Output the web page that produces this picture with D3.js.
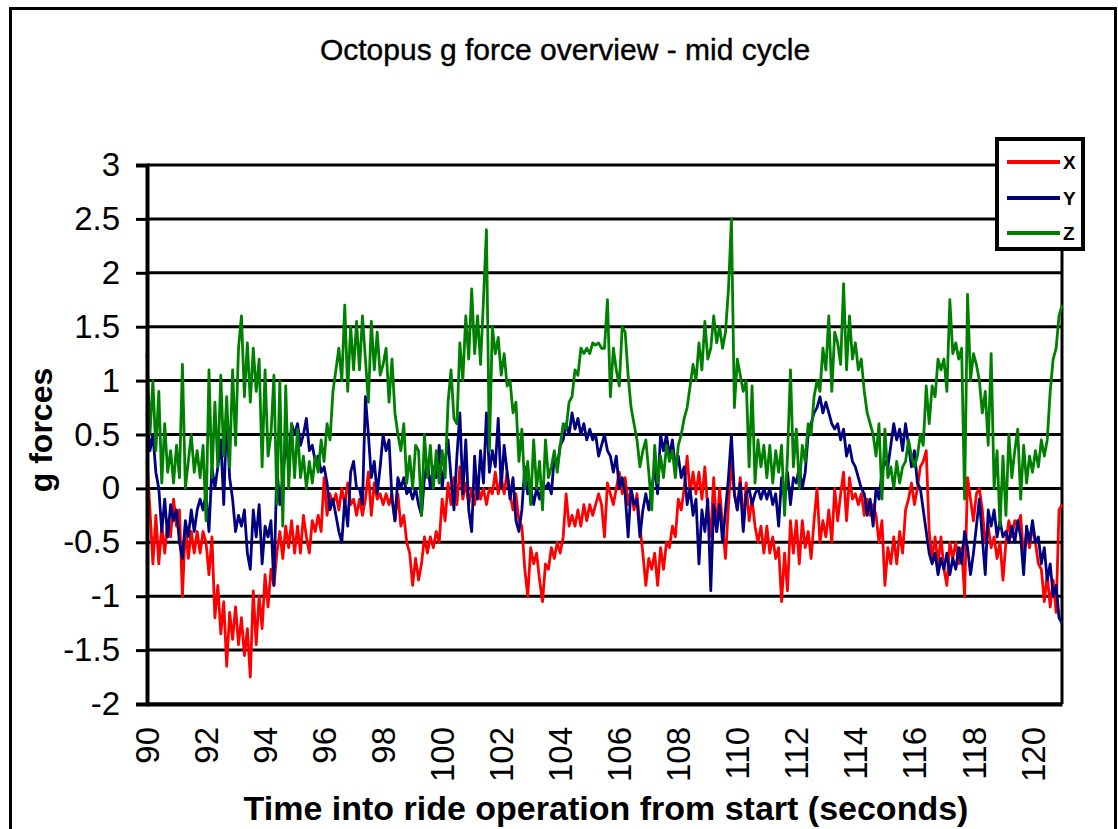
<!DOCTYPE html>
<html>
<head>
<meta charset="utf-8">
<script src="https://cdn.jsdelivr.net/npm/d3@7"></script>
<style>
  html, body { margin: 0; padding: 0; background: #fff; }
  svg { display: block; font-family: "Liberation Sans", Arial, sans-serif; }
</style>
</head>
<body>
<svg id="chart" width="1118" height="829"></svg>
<script>
// sampled every 0.1 s, starting at 90 s
const startTime = 90;
const sampleStep = 0.1;

const xSeries = [
  0.25, -0.2, -0.7, -0.25, -0.7, -0.35, -0.6, -0.3, -0.45, -0.1,
  -0.35, -0.2, -1.0, -0.35, -0.65, -0.4, -0.6, -0.4, -0.6, -0.4,
  -0.5, -0.8, -0.45, -1.2, -0.9, -1.35, -1.05, -1.65, -1.15, -1.4,
  -1.1, -1.45, -1.2, -1.55, -1.3, -1.75, -0.95, -1.45, -1.0, -1.3,
  -0.8, -1.1, -0.75, -0.9, -0.6, -0.4, -0.65, -0.35, -0.55, -0.3,
  -0.6, -0.35, -0.6, -0.25, -0.45, -0.6, -0.3, -0.4, -0.25, -0.4,
  0.1, -0.25, -0.05, -0.15, -0.05, -0.2, 0.0, -0.15, 0.05, -0.15,
  -0.1, -0.25, -0.1, -0.25, -0.1, 0.15, -0.25, 0.05, -0.1, -0.05,
  -0.15, -0.05, -0.15, -0.05, -0.3, -0.05, -0.35, -0.25, -0.5, -0.6,
  -0.9, -0.65, -0.85, -0.7, -0.45, -0.6, -0.45, -0.55, -0.4, -0.5,
  -0.1, -0.3, 0.05, -0.15, 0.1, -0.15, 0.2, -0.1, 0.05, -0.15,
  0.0, -0.15, 0.05, -0.1, 0.0, -0.15, 0.0, -0.05, 0.15, -0.05,
  0.1, -0.05, 0.15, -0.05, -0.2, -0.05, -0.3, -0.35, -0.75, -1.0,
  -0.55, -0.7, -0.6, -0.85, -1.05, -0.7, -0.75, -0.55, -0.65, -0.5,
  -0.6, -0.45, -0.05, -0.35, -0.25, -0.35, -0.2, -0.35, -0.15, -0.3,
  -0.15, -0.25, -0.15, -0.05, -0.15, -0.45, 0.05, -0.05, -0.15, 0.0,
  0.15, -0.05, 0.1, -0.15, 0.0, -0.2, -0.05, -0.35, -0.6, -0.9,
  -0.65, -0.75, -0.6, -0.9, -0.55, -0.75, -0.5, -0.55, -0.35, -0.45,
  -0.1, -0.2, 0.0, 0.3, -0.05, 0.15, -0.05, 0.15, -0.1, 0.2,
  -0.2, -0.45, 0.1, -0.4, 0.0, -0.35, -0.65, -0.15, 0.25, -0.05,
  -0.2, 0.1, -0.35, 0.05, -0.3, -0.1, -0.35, -0.5, -0.35, -0.6,
  -0.35, -0.6, -0.45, -0.65, -0.55, -1.05, -0.6, -0.95, -0.3, -0.6,
  -0.3, -0.7, -0.3, -0.55, -0.4, -0.65, -0.3, 0.0, -0.5, -0.3,
  -0.45, -0.2, -0.5, 0.0, -0.3, -0.05, 0.15, -0.3, 0.1, -0.1,
  -0.05, -0.15, -0.05, -0.25, -0.1, -0.25, -0.15, -0.25, -0.5, -0.3,
  -0.9, -0.55, -0.7, -0.45, -0.7, -0.4, -0.6, -0.2, -0.1, 0.05,
  -0.15, 0.0, 0.2, 0.25, 0.35, -0.4, -0.65, -0.45, -0.7, -0.45,
  -0.75, -0.9, -0.5, -0.65, -0.5, -0.7, -0.55, -1.0, 0.1, -0.1,
  -0.3, -0.05, 0.0, -0.2, -0.5, -0.35, -0.55, -0.45, -0.65, -0.5,
  -0.85, -0.5, -0.3, -0.45, -0.3, -0.35, -0.25, -0.65, -0.4, -0.55,
  -0.35, -0.5, -0.7, -0.75, -1.05, -0.8, -1.1, -0.85, -1.15, -0.2,
  -0.15
];

const ySeries = [
  0.7, 0.35, 0.5, 0.15, 0.0, -0.4, -0.1, -0.45, -0.15, -0.3,
  -0.2, -0.5, -0.65, -0.3, -0.45, -0.2, -0.4, -0.2, -0.1, -0.2,
  -0.05, -0.4, 0.2, 0.0, 0.2, 0.45, -0.15, 0.7, 0.1, -0.1,
  -0.4, -0.25, -0.35, -0.2, -0.6, -0.75, -0.2, -0.45, -0.15, -0.7,
  -0.35, -0.45, -0.3, -0.9, 0.2, -0.15, 0.1, 0.4, 0.25, 0.6,
  0.5, 0.6, 0.4, 0.5, 0.65, 0.35, 0.4, 0.25, 0.3, 0.15,
  0.2, 0.05, -0.2, -0.1, -0.25, -0.4, -0.5, -0.1, -0.35, 0.15,
  0.25, 0.0, 0.0, -0.15, 0.85, 0.5, 0.1, 0.25, -0.05, 0.2,
  0.5, 0.35, 0.45, -0.1, -0.3, 0.1, 0.0, 0.1, -0.05, 0.0,
  -0.1, 0.0, -0.15, -0.25, 0.1, 0.25, 0.0, 0.2, 0.1, 0.4,
  0.0, 0.25, 0.45, 0.1, -0.2, 0.3, 0.7, -0.05, 0.45, -0.2,
  -0.4, 0.3, -0.1, 0.35, 0.05, 0.7, 0.15, 0.35, 0.2, 0.65,
  0.0, 0.4, 0.15, -0.1, 0.1, -0.3, -0.4, -0.2, 0.2, -0.05,
  0.0, -0.15, 0.0, -0.1, 0.05, 0.0, 0.05, -0.05, 0.3, 0.2,
  0.4, 0.45, 0.6, 0.5, 0.7, 0.55, 0.65, 0.5, 0.6, 0.45,
  0.55, 0.45, 0.5, 0.3, 0.4, 0.5, 0.35, 0.3, 0.15, 0.3,
  0.0, 0.1, -0.05, -0.45, 0.0, -0.15, -0.1, -0.45, -0.2, -0.05,
  -0.2, 0.0, 0.2, -0.05, 0.5, 0.35, 0.5, 0.3, 0.45, 0.2,
  0.3, 0.1, 0.2, -0.15, 0.0, -0.25, -0.1, -0.7, -0.2, -0.4,
  -0.1, -0.95, -0.15, -0.4, -0.15, -0.5, -0.2, 0.1, 0.5, -0.05,
  -0.2, 0.05, -0.4, -0.05, 0.0, -0.15, -0.05, 0.0, -0.1, 0.0,
  -0.1, 0.0, -0.15, -0.05, -0.35, 0.1, -0.1, 0.15, -0.15, 0.1,
  0.05, 0.2, 0.0, 0.15, 0.5, 0.6, 0.7, 0.75, 0.85, 0.7,
  0.8, 0.7, 0.6, 0.55, 0.6, 0.45, 0.55, 0.3, 0.4, 0.25,
  0.2, 0.1, 0.0, -0.05, -0.25, -0.1, -0.35, 0.0, -0.1, 0.15,
  0.25, 0.2, 0.4, 0.6, 0.45, 0.55, 0.35, 0.6, 0.4, 0.2,
  0.35, 0.05, 0.0, -0.2, -0.4, -0.6, -0.7, -0.6, -0.8, -0.65,
  -0.75, -0.6, -0.8, -0.65, -0.75, -0.55, -0.7, -0.4, -0.55, -0.8,
  -0.6, -0.35, -0.1, -0.45, -0.8, -0.2, -0.35, -0.2, -0.45, -0.3,
  -0.45, -0.4, -0.5, -0.35, -0.5, -0.3, -0.45, -0.8, -0.35, -0.5,
  -0.3, -0.5, -0.45, -0.7, -0.55, -0.85, -0.7, -1.0, -0.9, -1.2,
  -1.25
];

const zSeries = [
  1.25, 0.5, 1.0, 0.35, 0.9, 0.05, 0.6, 0.15, 0.35, 0.05,
  0.4, 0.1, 1.15, 0.0, 0.25, 0.5, 0.15, 0.35, 0.1, 0.4,
  -0.3, 1.1, 0.1, 0.8, 0.2, 1.05, 0.3, 0.85, 0.2, 1.1,
  0.4, 1.3, 1.6, 0.85, 1.35, 0.8, 1.3, 0.9, 1.2, 0.2,
  1.1, 0.3, 0.5, 1.05, -0.15, 1.0, -0.35, 0.95, 0.0, 0.6,
  0.1, 0.55, 0.1, 0.3, 0.0, 0.25, 0.05, 0.3, 0.15, 0.45,
  0.25, 0.6, 0.45, 0.9, 1.1, 1.3, 1.0, 1.7, 0.9, 1.5,
  1.1, 1.55, 1.1, 1.6, 1.2, 0.8, 1.55, 1.1, 1.45, 1.05,
  1.15, 1.3, 0.8, 1.2, 0.7, 0.5, 0.35, 0.6, 0.05, 0.3,
  0.0, 0.4, 0.35, -0.25, 0.5, 0.1, 0.4, 0.0, 0.35, 0.05,
  0.35, 0.1, 0.8, 1.1, 0.65, 0.6, 1.35, 1.0, 1.6, 1.2,
  1.85, 1.25, 1.6, 1.15, 1.75, 2.4, 0.35, 1.5, 1.25, 1.4,
  1.05, 1.25, 0.95, 1.0, 0.7, 0.8, 0.25, 0.55, 0.0, 0.25,
  -0.15, 0.45, 0.0, 0.25, -0.2, 0.45, 0.1, 0.2, 0.35, 0.15,
  0.4, 0.6, 0.55, 0.8, 0.85, 1.1, 1.05, 1.3, 1.25, 1.3,
  1.25, 1.35, 1.33, 1.35, 1.3, 1.3, 1.75, 0.85, 1.3, 1.1,
  0.95, 1.5, 1.45, 1.05, 0.75, 0.6, 0.45, 0.2, 0.35, 0.45,
  0.15, -0.2, 0.4, 0.05, 0.3, 0.1, 0.4, 0.25, 0.35, 0.1,
  0.4, 0.5, 0.65, 0.75, 0.95, 1.15, 1.0, 1.35, 1.1, 1.55,
  1.2, 1.3, 1.6, 1.35, 1.5, 1.3, 1.45, 1.85, 2.5, 0.75,
  1.2, 1.05, 0.9, 1.0, 0.2, 0.95, 0.05, 0.45, 0.2, 0.4,
  0.1, 0.4, 0.05, 0.35, 0.15, 0.4, -0.25, 0.3, 1.1, 0.2,
  0.55, 0.0, 0.4, 0.25, 0.6, 0.5, 0.85, 1.0, 0.9, 1.3,
  1.1, 1.6, 0.9, 1.45, 1.35, 1.15, 1.9, 1.1, 1.6, 1.2,
  1.35, 1.1, 1.2, 0.9, 0.7, 0.6, 0.5, 0.3, 0.6, -0.1,
  0.55, 0.1, 0.2, 0.0, 0.25, 0.05, 0.2, 0.25, 0.45, 0.3,
  0.2, 0.3, 0.5, 0.4, 0.95, 0.6, 0.95, 0.85, 1.2, 1.1,
  1.2, 0.9, 1.75, 1.25, 1.35, 1.2, 1.3, -0.1, 1.8, 1.0,
  1.25, 1.15, 1.0, 0.7, 0.9, 0.4, 1.25, 0.0, 0.35, -0.35,
  0.3, -0.25, 0.5, 0.1, 0.35, 0.55, -0.1, 0.4, 0.05, 0.3,
  0.15, 0.35, 0.2, 0.45, 0.3, 0.45, 0.9, 1.2, 1.3, 1.6,
  1.7
];

const seriesNames = ['X', 'Y', 'Z'];
const seriesColors = ['#ff0000', '#000080', '#008000'];
const xTicks = [90, 92, 94, 96, 98, 100, 102, 104, 106, 108, 110, 112, 114, 116, 118, 120];
const yTicks = [-2, -1.5, -1, -0.5, 0, 0.5, 1, 1.5, 2, 2.5, 3];

// plain hyphen for negatives, like the original spreadsheet chart
const plainFormat = d => String(d);

const svg = d3.select('#chart');

// outer chart border
svg.append('rect')
  .attr('x', 10.5).attr('y', 8.5)
  .attr('width', 1105).attr('height', 850)
  .attr('fill', '#fff')
  .attr('stroke', '#000')
  .attr('stroke-width', 3);

svg.append('text')
  .attr('x', 565).attr('y', 60)
  .attr('text-anchor', 'middle')
  .attr('font-size', 30)
  .attr('fill', '#000')
  .attr('stroke', '#000')
  .attr('stroke-width', 0.4)
  .text('Octopus g force overview - mid cycle');

const x = d3.scaleLinear().domain([90, 121]).range([147, 1062]);
const y = d3.scaleLinear().domain([-2, 3]).range([704, 165]);

// gridlines
svg.append('g')
  .selectAll('line')
  .data(yTicks)
  .enter().append('line')
    .attr('x1', x(90)).attr('x2', x(121))
    .attr('y1', d => y(d)).attr('y2', d => y(d))
    .attr('stroke', '#000')
    .attr('stroke-width', 3);

// right frame
svg.append('line')
  .attr('x1', x(121)).attr('x2', x(121))
  .attr('y1', y(3)).attr('y2', y(-2))
  .attr('stroke', '#000')
  .attr('stroke-width', 3);

// series
const line = d3.line()
  .x((d, i) => x(startTime + i * sampleStep))
  .y(d => y(d));

[xSeries, ySeries, zSeries].forEach((values, k) => {
  svg.append('path')
    .datum(values)
    .attr('fill', 'none')
    .attr('stroke', seriesColors[k])
    .attr('stroke-width', 2.8)
    .attr('stroke-linejoin', 'round')
    .attr('d', line);
});

// y axis
const yAxis = svg.append('g')
  .attr('transform', `translate(${x(90)},0)`)
  .call(d3.axisLeft(y)
    .tickValues(yTicks)
    .tickSize(11)
    .tickPadding(16)
    .tickFormat(plainFormat));
yAxis.select('.domain').attr('stroke-width', 4);
yAxis.selectAll('.tick line').attr('stroke-width', 3);
yAxis.selectAll('.tick text')
  .attr('font-size', 33)
  .attr('font-family', '"Liberation Sans", Arial, sans-serif')
  .attr('fill', '#000');

// x axis
const xAxis = svg.append('g')
  .attr('transform', `translate(0,${y(-2)})`)
  .call(d3.axisBottom(x)
    .tickValues(xTicks)
    .tickSize(0)
    .tickFormat(plainFormat));
xAxis.select('.domain').attr('stroke-width', 4);
xAxis.selectAll('.tick text')
  .attr('font-size', 33)
  .attr('font-family', '"Liberation Sans", Arial, sans-serif')
  .attr('fill', '#000')
  .attr('text-anchor', 'end')
  .attr('transform', 'rotate(-90)')
  .attr('x', -23)
  .attr('y', 0)
  .attr('dy', '0.35em');

svg.append('text')
  .attr('transform', 'translate(52,430) rotate(-90)')
  .attr('text-anchor', 'middle')
  .attr('font-size', 32)
  .attr('font-weight', 'bold')
  .attr('fill', '#000')
  .text('g forces');

svg.append('text')
  .attr('x', 606).attr('y', 820)
  .attr('text-anchor', 'middle')
  .attr('font-size', 34)
  .attr('font-weight', 'bold')
  .attr('fill', '#000')
  .text('Time into ride operation from start (seconds)');

// legend
const legend = svg.append('g');
legend.append('rect')
  .attr('x', 997).attr('y', 139)
  .attr('width', 86).attr('height', 110)
  .attr('fill', '#fff')
  .attr('stroke', '#000')
  .attr('stroke-width', 4);

const legendRows = [162, 198, 233];
seriesNames.forEach((name, k) => {
  legend.append('line')
    .attr('x1', 1007).attr('x2', 1060)
    .attr('y1', legendRows[k]).attr('y2', legendRows[k])
    .attr('stroke', seriesColors[k])
    .attr('stroke-width', 4);
  legend.append('text')
    .attr('x', 1063).attr('y', legendRows[k] + 7)
    .attr('font-size', 19)
    .attr('font-weight', 'bold')
    .attr('fill', '#000')
    .text(name);
});
</script>
</body>
</html>
